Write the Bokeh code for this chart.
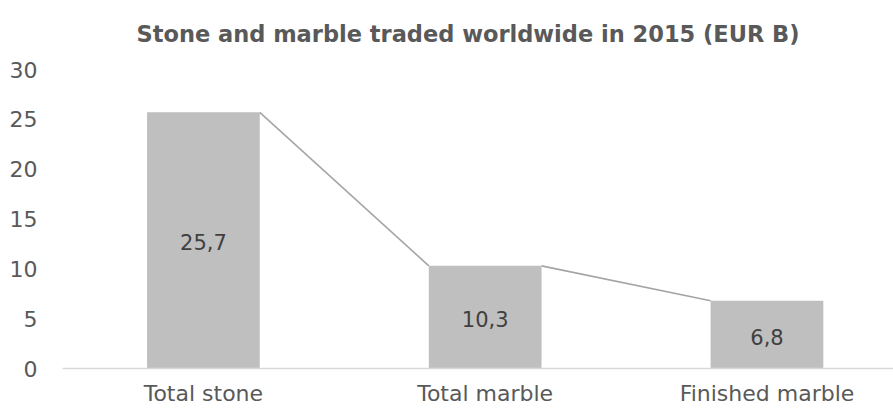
from bokeh.plotting import figure
from bokeh.models import Range1d, FixedTicker, ColumnDataSource
from bokeh.core.properties import value
from bokeh.embed import file_html
from bokeh.resources import INLINE

title_text = "Stone and marble traded worldwide in 2015 (EUR B)"
categories = ["Total stone", "Total marble", "Finished marble"]
values = [25.7, 10.3, 6.8]
value_labels = ["25,7", "10,3", "6,8"]
y_ticks = [0, 5, 10, 15, 20, 25, 30]

bar_w = 0.4
xs = list(range(len(categories)))

p = figure(width=893, height=408, output_backend="svg", toolbar_location=None,
           x_range=Range1d(-0.5, 2.449), y_range=Range1d(0, 30),
           min_border_left=62, min_border_right=0, min_border_top=68, min_border_bottom=40,
           title=title_text)
p.outline_line_color = None
p.grid.visible = False
p.background_fill_color = "white"
p.border_fill_color = "white"

p.title.text_font = "DejaVu Sans"
p.title.text_font_style = "bold"
p.title.text_font_size = "22.5px"
p.title.text_color = "#595959"
p.title.align = "left"
p.title.offset = 74
p.title.standoff = 41
p.title.vertical_align = "top"

src = ColumnDataSource(dict(x=xs, top=values, lab=value_labels, mid=[v / 2 for v in values]))
p.vbar(x="x", top="top", bottom=0, width=bar_w, source=src, fill_color="#BFBFBF", line_color=None)

seg_x0 = [i + bar_w / 2 for i in xs[:-1]]
seg_x1 = [i + 1 - bar_w / 2 for i in xs[:-1]]
p.segment(x0=seg_x0, y0=values[:-1], x1=seg_x1, y1=values[1:], line_color="#A5A5A5", line_width=1.6)

p.text(x="x", y="mid", text="lab", source=src, text_align="center", text_baseline="middle",
       y_offset=2, text_font=value("DejaVu Sans"), text_font_size="21px", text_color="#404040")

p.xaxis.ticker = FixedTicker(ticks=xs)
p.xaxis.major_label_overrides = {i: c for i, c in zip(xs, categories)}
p.xaxis.axis_line_color = "#D9D9D9"
p.xaxis.axis_line_width = 1.5
p.xaxis.major_tick_line_color = None
p.xaxis.major_tick_out = 0
p.xaxis.major_tick_in = 0
p.xaxis.minor_tick_line_color = None
p.xaxis.major_label_text_font = "DejaVu Sans"
p.xaxis.major_label_text_font_size = "22px"
p.xaxis.major_label_text_color = "#595959"
p.xaxis.major_label_standoff = 12

p.yaxis.ticker = FixedTicker(ticks=y_ticks)
p.yaxis.axis_line_color = None
p.yaxis.major_tick_line_color = None
p.yaxis.major_tick_out = 0
p.yaxis.major_tick_in = 0
p.yaxis.minor_tick_line_color = None
p.yaxis.major_label_text_font = "DejaVu Sans"
p.yaxis.major_label_text_font_size = "22px"
p.yaxis.major_label_text_color = "#595959"
p.yaxis.major_label_standoff = 25

open("out.html", "w").write(file_html(p, INLINE))
